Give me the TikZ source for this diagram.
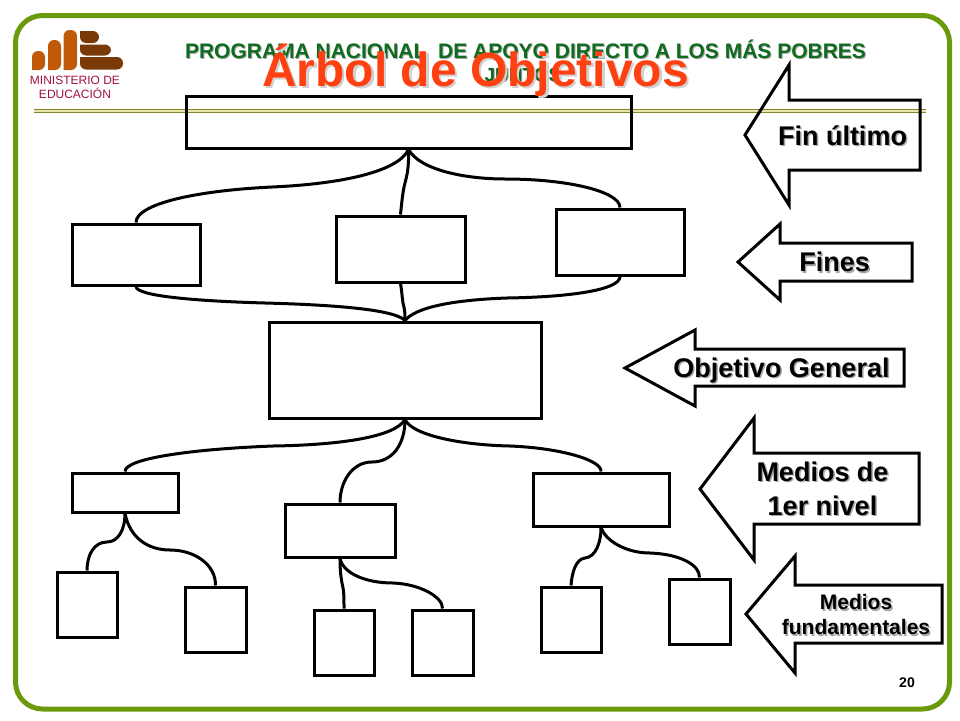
\documentclass[tikz,border=0pt]{standalone}
\usepackage{fontspec}
\setmainfont{Liberation Sans}
\usetikzlibrary{positioning}
\definecolor{framegreen}{HTML}{6B9A0C}
\definecolor{headgreen}{HTML}{0F6B1E}
\definecolor{titlered}{HTML}{FF4010}
\definecolor{ruleolive}{HTML}{85852A}
\definecolor{rulecream}{HTML}{E8E4B0}
\definecolor{logolight}{HTML}{C05A08}
\definecolor{logodark}{HTML}{7A3A08}
\definecolor{logotext}{HTML}{A01040}
\colorlet{shadowgray}{black!35}
\newcommand{\shadowed}[2][1.5pt]{\leavevmode\rlap{\hspace{#1}\raisebox{-#1}{\color{shadowgray}#2}}#2}
\newcommand{\fsize}[1]{\fontsize{#1}{#1}\selectfont}
\begin{document}
\begin{tikzpicture}[x=1pt,y=-1pt,on grid,
	goalbox/.style={draw,line width=3pt,inner sep=0pt},
	link/.style={line width=3pt},
	pointer/.style={draw,line width=3pt,miter limit=10},
	tag/.style={font=\bfseries\fsize{#1},align=center,inner sep=0pt},
	logolow/.style={fill=logolight,rounded corners=6pt},
	logohigh/.style={fill=logodark,rounded corners=6pt}]
	\useasboundingbox (0,0) rectangle (960,720);
	\draw[framegreen,line width=5pt,rounded corners=27pt] (15.5,15.5) rectangle (949.5,709);
	\draw[rulecream,line width=4pt] (34,111) -- (926,111);
	\draw[ruleolive,line width=1.4pt] (34,109.3) -- (926,109.3);
	\draw[ruleolive,line width=1.4pt] (34,112.7) -- (926,112.7);
	\fill[logolow] (32,70) -- (32,51) -- (45,51) -- (45,70) [sharp corners] -- cycle;
	\fill[logolow] (48,70) -- (48,40) -- (61,40) -- (61,70) [sharp corners] -- cycle;
	\fill[logolow] (63.5,70) -- (63.5,30) -- (77,30) -- (77,70) [sharp corners] -- cycle;
	\fill[logohigh] (80,31) -- (99,31) -- (99,43) -- (80,43) [sharp corners] -- cycle;
	\fill[logohigh] (80,44.5) -- (111,44.5) -- (111,55.5) -- (80,55.5) [sharp corners] -- cycle;
	\fill[logohigh] (80,57) -- (123,57) -- (123,69.5) -- (80,69.5) [sharp corners] -- cycle;
	\node[logotext,font=\fsize{12},align=center,inner sep=0pt] (ministerio) at (75,87) {MINISTERIO DE\\[2pt]EDUCACIÓN};
	\node[headgreen,tag=21] (programa) at (525.5,50) {\shadowed[1pt]{PROGRAMA NACIONAL\ \ DE APOYO DIRECTO A LOS MÁS POBRES}};
	\node[headgreen,tag=19] (juntos) at (523,75) {\shadowed[1pt]{JUNTOS}};

	\node[goalbox,minimum width=445pt,minimum height=52pt] (top) at (408.5,122) {};
	\node[goalbox,minimum width=128pt,minimum height=61pt] (fin1) [below left=132.5pt and 272.5pt of top] {};
	\node[goalbox,minimum width=129pt,minimum height=66pt] (fin2) [below left=127pt and 8pt of top] {};
	\node[goalbox,minimum width=128pt,minimum height=66pt] (fin3) [below right=120pt and 211.5pt of top] {};
	\node[goalbox,minimum width=272pt,minimum height=96pt] (obj) [below left=248pt and 3.5pt of top] {};
	\node[goalbox,minimum width=106pt,minimum height=39pt] (med1) [below left=122.5pt and 280pt of obj] {};
	\node[goalbox,minimum width=110pt,minimum height=53pt] (med2) [below left=160.5pt and 65pt of obj] {};
	\node[goalbox,minimum width=136pt,minimum height=53pt] (med3) [below right=129.5pt and 196pt of obj] {};
	\node[goalbox,minimum width=60pt,minimum height=65pt] (fund1) [below left=112pt and 38pt of med1] {};
	\node[goalbox,minimum width=61pt,minimum height=65pt] (fund2) [below right=127pt and 90.5pt of med1] {};
	\node[goalbox,minimum width=60pt,minimum height=65pt] (fund3) [below right=112pt and 4pt of med2] {};
	\node[goalbox,minimum width=61pt,minimum height=65pt] (fund4) [below right=112pt and 102.5pt of med2] {};
	\node[goalbox,minimum width=60pt,minimum height=65pt] (fund5) [below left=120pt and 30pt of med3] {};
	\node[goalbox,minimum width=61pt,minimum height=65pt] (fund6) [below right=112pt and 98.5pt of med3] {};

	\draw[link] (top.south) .. controls (398,172) and (340,184) .. (272,187) .. controls (190,191) and (136,205) .. (fin1.north);
	\draw[link] (top.south) .. controls (409,168) and (407,175) .. (405,183) .. controls (403,190) and (402,200) .. (fin2.north);
	\draw[link] (top.south) .. controls (420,170) and (465,179) .. (505,179) .. controls (570,179) and (620,192) .. (fin3.north);
	\draw[link] (fin1.south) .. controls (136,296) and (195,301) .. (265,303) .. controls (340,305) and (395,310) .. (obj.north);
	\draw[link] (fin2.south) .. controls (402,292) and (402,297) .. (403,303) .. controls (405,310) and (405,315) .. (obj.north);
	\draw[link] (fin3.south) .. controls (620,290) and (570,297) .. (507,298) .. controls (450,300) and (415,308) .. (obj.north);
	\draw[link] (obj.south) .. controls (395,437) and (340,445) .. (273,446) .. controls (195,449) and (125,458) .. (med1.north);
	\draw[link] (obj.south) .. controls (405,445) and (392,462) .. (372,462) .. controls (352,462) and (340,482) .. (med2.north);
	\draw[link] (obj.south) .. controls (412,435) and (460,445) .. (510,446) .. controls (560,448) and (602,460) .. (med3.north);
	\draw[link] (med1.south) .. controls (125,530) and (118,542) .. (107,542) .. controls (94,542) and (87,555) .. (fund1.north);
	\draw[link] (med1.south) .. controls (130,538) and (148,550) .. (170,550) .. controls (195,550) and (216,565) .. (fund2.north);
	\draw[link] (med2.south) .. controls (340,572) and (341,577) .. (342,583) .. controls (344,590) and (344,598) .. (fund3.north);
	\draw[link] (med2.south) .. controls (343,573) and (365,583) .. (393,583) .. controls (420,584) and (443,597) .. (fund4.north);
	\draw[link] (med3.south) .. controls (601,542) and (596,557) .. (585,558) .. controls (576,559) and (572,572) .. (fund5.north);
	\draw[link] (med3.south) .. controls (605,540) and (625,553) .. (650,553) .. controls (680,554) and (700,565) .. (fund6.north);

	\draw[pointer] (745,135) -- (789,65) -- (789,100) -- (920,100) -- (920,170) -- (789,170) -- (789,205) -- cycle;
	\draw[pointer] (738,262) -- (780,224) -- (780,243) -- (912,243) -- (912,281) -- (780,281) -- (780,300) -- cycle;
	\draw[pointer] (625,368) -- (695,330) -- (695,349) -- (904,349) -- (904,386) -- (695,386) -- (695,406) -- cycle;
	\draw[pointer] (700,489) -- (754,418) -- (754,453) -- (919,453) -- (919,524) -- (754,524) -- (754,560) -- cycle;
	\draw[pointer] (746,614) -- (795,556) -- (795,585) -- (942,585) -- (942,643) -- (795,643) -- (795,673) -- cycle;
	\node[tag=27] (finultimo) at (842.5,136) {\shadowed{Fin último}};
	\node[tag=27] (fines) at (834.5,263) {\shadowed{Fines}};
	\node[tag=27] (general) at (781.5,371) {\shadowed{Objetivo General}};
	\node[tag=27] (primer) at (822.5,489.5) {\shadowed{Medios de}\\[7pt]\shadowed{1er nivel}};
	\node[tag=21] (fundamentales) at (856,615.5) {\shadowed{Medios}\\[4pt]\shadowed{fundamentales}};
	\node[titlered,tag=48] (title) at (475.5,71) {\colorlet{shadowgray}{black!18}\shadowed[2.5pt]{Árbol de Objetivos}};
	\node[font=\bfseries\fsize{14},inner sep=0pt] (numero) at (907,683) {20};
\end{tikzpicture}
\end{document}
